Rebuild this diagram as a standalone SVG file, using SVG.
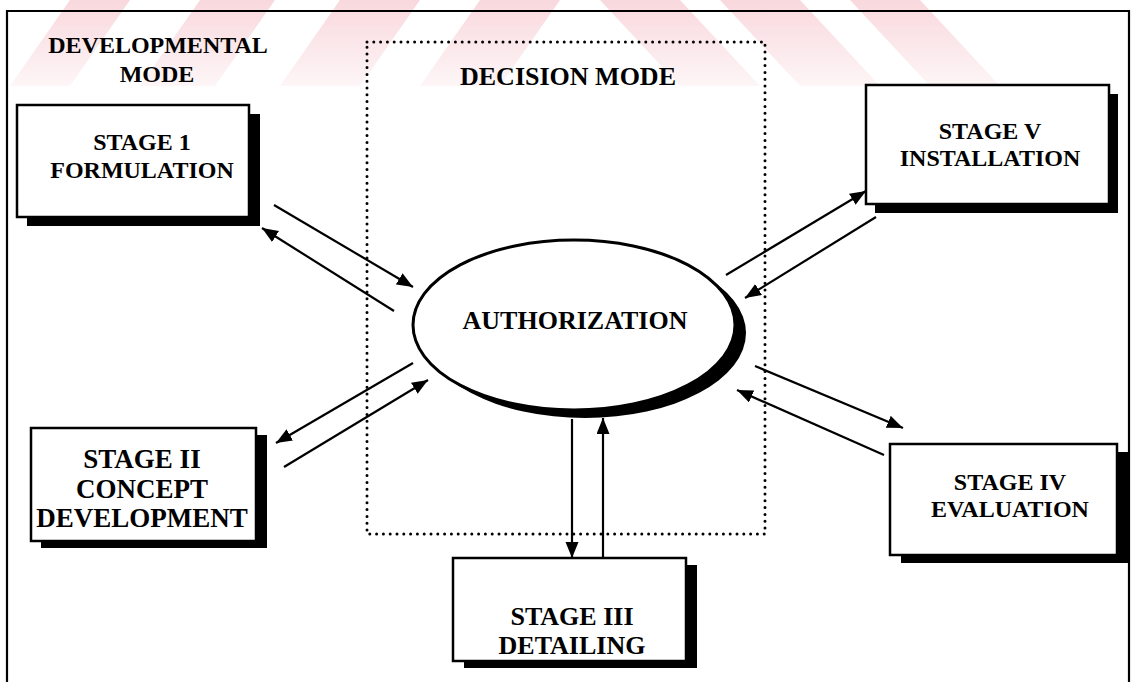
<svg xmlns="http://www.w3.org/2000/svg" width="1134" height="682" viewBox="0 0 1134 682">
  <style>
    text { font-family: "Liberation Serif", "Times New Roman", serif; font-weight: bold; fill: #000; text-anchor: middle; }
    .t24 { font-size: 24px; }
    .t26 { font-size: 26px; }
    .t27 { font-size: 27px; }
    .box { fill: #fff; stroke: #000; stroke-width: 2.5; }
    .shadow { fill: #000; }
    .link { stroke: #000; stroke-width: 2.2; fill: none; marker-end: url(#arrow); }
    .wm { fill: url(#wmFade); }
  </style>
  <defs>
    <marker id="arrow" markerUnits="userSpaceOnUse" markerWidth="17" markerHeight="14" refX="16" refY="6.5" orient="auto">
      <path d="M0,0 L16,6.5 L0,13 Z" fill="#000"/>
    </marker>
    <linearGradient id="wmFade" x1="0" y1="0" x2="0" y2="1">
      <stop offset="0" stop-color="#f5bfc7"/>
      <stop offset="1" stop-color="#fdf0f2"/>
    </linearGradient>
    <clipPath id="wmClip">
      <rect x="0" y="0" width="1134" height="86"/>
    </clipPath>
  </defs>

  <rect width="1134" height="682" fill="#fff"/>

  <!-- faint striped emblem behind the heading band -->
  <g id="emblem" clip-path="url(#wmClip)" opacity="0.6">
    <polygon class="wm" points="70,0 130,0 70,86 10,86"/>
    <polygon class="wm" points="200,0 275,0 215,86 140,86"/>
    <polygon class="wm" points="340,0 420,0 360,86 280,86"/>
    <polygon class="wm" points="480,0 560,0 500,86 420,86"/>
    <polygon class="wm" points="600,0 680,0 760,86 680,86"/>
    <polygon class="wm" points="720,0 800,0 880,86 800,86"/>
    <polygon class="wm" points="850,0 920,0 1000,86 930,86"/>
  </g>

  <!-- page frame -->
  <path id="frame" d="M7,690 V11 H1129 V690" fill="none" stroke="#000" stroke-width="2.2"/>

  <!-- decision zone -->
  <g id="decision-zone">
    <rect x="367" y="42" width="398" height="492" fill="none" stroke="#000" stroke-width="3" stroke-dasharray="0 6.8" stroke-linecap="round"/>
    <text class="t26" x="568" y="85">DECISION MODE</text>
  </g>

  <g id="developmental-label">
    <text class="t24" x="158" y="53">DEVELOPMENTAL</text>
    <text class="t24" x="157" y="82">MODE</text>
  </g>

  <!-- connectors -->
  <g id="connectors">
    <line class="link" x1="274" y1="205" x2="413" y2="287"/>
    <line class="link" x1="394" y1="311" x2="262" y2="228"/>
    <line class="link" x1="413" y1="363" x2="276" y2="443"/>
    <line class="link" x1="284" y1="467" x2="428" y2="380"/>
    <line class="link" x1="572" y1="419" x2="572" y2="558"/>
    <line class="link" x1="603" y1="558" x2="603" y2="418"/>
    <line class="link" x1="726" y1="275" x2="866" y2="191"/>
    <line class="link" x1="876" y1="217" x2="745" y2="298"/>
    <line class="link" x1="755" y1="366" x2="903" y2="428"/>
    <line class="link" x1="884" y1="455" x2="737" y2="390"/>
  </g>

  <!-- hub -->
  <g id="authorization">
    <ellipse class="shadow" cx="585" cy="333" rx="161" ry="85"/>
    <ellipse cx="574" cy="325" rx="161" ry="85" fill="#fff" stroke="#000" stroke-width="3"/>
    <text class="t26" x="575" y="329">AUTHORIZATION</text>
  </g>

  <g id="stage-1">
    <rect class="shadow" x="27" y="114" width="233" height="112"/>
    <rect class="box" x="17" y="105" width="232" height="112"/>
    <text class="t24" x="142" y="150">STAGE 1</text>
    <text class="t24" x="142" y="178">FORMULATION</text>
  </g>

  <g id="stage-2">
    <rect class="shadow" x="41" y="435" width="226" height="113"/>
    <rect class="box" x="31" y="428" width="225" height="113"/>
    <text class="t27" x="142" y="468">STAGE II</text>
    <text class="t27" x="142" y="498">CONCEPT</text>
    <text class="t27" x="142" y="527">DEVELOPMENT</text>
  </g>

  <g id="stage-3">
    <rect class="shadow" x="464" y="565" width="233" height="103"/>
    <rect class="box" x="453" y="558" width="233" height="103"/>
    <text class="t26" x="572" y="625">STAGE III</text>
    <text class="t26" x="572" y="654">DETAILING</text>
  </g>

  <g id="stage-4">
    <rect class="shadow" x="901" y="452" width="228" height="111"/>
    <rect class="box" x="890" y="444" width="227" height="111"/>
    <text class="t24" x="1010" y="490">STAGE IV</text>
    <text class="t24" x="1010" y="517">EVALUATION</text>
  </g>

  <g id="stage-5">
    <rect class="shadow" x="875" y="94" width="243" height="119"/>
    <rect class="box" x="866" y="85" width="243" height="119"/>
    <text class="t24" x="990" y="139">STAGE V</text>
    <text class="t24" x="990" y="166">INSTALLATION</text>
  </g>
</svg>
